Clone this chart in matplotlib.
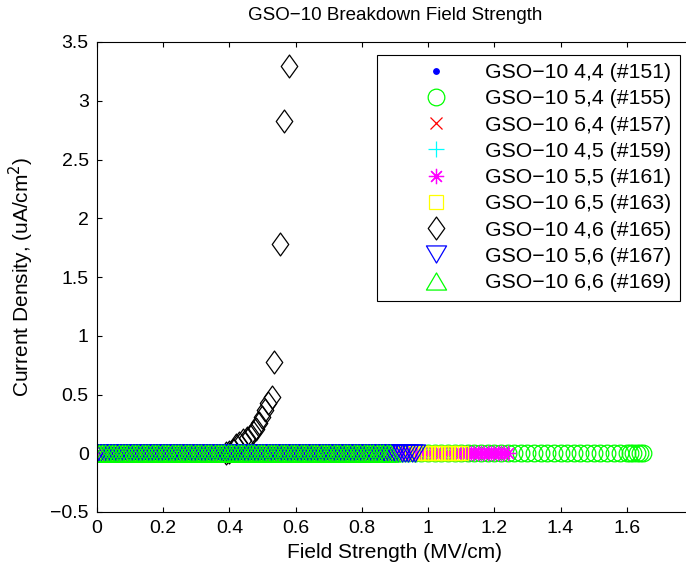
import matplotlib
matplotlib.use("Agg")
import matplotlib.pyplot as plt
from matplotlib.path import Path

plt.rcParams['font.family'] = ['Liberation Sans', 'DejaVu Sans']

# ---------------- data ----------------
labels = ["GSO\u221210 4,4 (#151)", "GSO\u221210 5,4 (#155)", "GSO\u221210 6,4 (#157)",
          "GSO\u221210 4,5 (#159)", "GSO\u221210 5,5 (#161)", "GSO\u221210 6,5 (#163)",
          "GSO\u221210 4,6 (#165)", "GSO\u221210 5,6 (#167)", "GSO\u221210 6,6 (#169)"]

x151 = [0.00, 0.03, 0.06, 0.09, 0.12, 0.15, 0.18, 0.21, 0.24, 0.27, 0.30, 0.33, 0.36, 0.39,
        0.42, 0.45, 0.48, 0.51, 0.54, 0.57, 0.60, 0.63, 0.66, 0.69, 0.72, 0.75, 0.78, 0.81,
        0.84, 0.87]
y151 = [0.0] * len(x151)

x155 = [0.00, 0.02, 0.04, 0.06, 0.08, 0.10, 0.12, 0.14, 0.16, 0.18,
        0.20, 0.22, 0.24, 0.26, 0.28, 0.30, 0.32, 0.34, 0.36, 0.38,
        0.40, 0.42, 0.44, 0.46, 0.48, 0.50, 0.52, 0.54, 0.56, 0.58,
        0.60, 0.62, 0.64, 0.66, 0.68, 0.70, 0.72, 0.74, 0.76, 0.78,
        0.80, 0.82, 0.84, 0.86, 0.88, 0.90, 0.92, 0.94, 0.96, 0.98,
        1.00, 1.02, 1.04, 1.06, 1.08, 1.10, 1.12, 1.14, 1.16, 1.18,
        1.20, 1.22, 1.24, 1.26, 1.28, 1.30, 1.32, 1.34, 1.36, 1.38,
        1.40, 1.42, 1.44, 1.46, 1.48, 1.50, 1.52, 1.54, 1.56, 1.58,
        1.60, 1.61, 1.62, 1.63, 1.64, 1.65]
y155 = [0.0] * len(x155)

x157 = [0.01, 0.04, 0.07, 0.10, 0.13, 0.16, 0.19, 0.22, 0.25, 0.28, 0.31, 0.34, 0.37, 0.40,
        0.43, 0.46, 0.49, 0.52, 0.55, 0.58, 0.61, 0.64, 0.67, 0.70, 0.73, 0.76, 0.79, 0.82,
        0.85, 0.88]
y157 = [0.0] * len(x157)

x159 = [0.02, 0.05, 0.08, 0.11, 0.14, 0.17, 0.20, 0.23, 0.26, 0.29, 0.32, 0.35, 0.38, 0.41,
        0.44, 0.47, 0.50, 0.53, 0.56, 0.59, 0.62, 0.65, 0.68, 0.71, 0.74, 0.77, 0.80, 0.83,
        0.86, 0.89]
y159 = [0.0] * len(x159)

x161 = [0.00, 0.02, 0.04, 0.06, 0.08, 0.10, 0.12, 0.14, 0.16, 0.18,
        0.20, 0.22, 0.24, 0.26, 0.28, 0.30, 0.32, 0.34, 0.36, 0.38,
        0.40, 0.42, 0.44, 0.46, 0.48, 0.50, 0.52, 0.54, 0.56, 0.58,
        0.60, 0.62, 0.64, 0.66, 0.68, 0.70, 0.72, 0.74, 0.76, 0.78,
        0.80, 0.82, 0.84, 0.86, 0.88, 0.90, 0.92, 0.94, 0.96, 0.98,
        1.00, 1.02, 1.04, 1.06, 1.08, 1.10, 1.11, 1.12, 1.13, 1.14, 1.15, 1.16, 1.17, 1.18,
        1.19, 1.20, 1.21, 1.22, 1.23, 1.24]
y161 = [0.0] * len(x161)

x163 = [0.01, 0.03, 0.05, 0.07, 0.09, 0.11, 0.13, 0.15, 0.17, 0.19,
        0.21, 0.23, 0.25, 0.27, 0.29, 0.31, 0.33, 0.35, 0.37, 0.39,
        0.41, 0.43, 0.45, 0.47, 0.49, 0.51, 0.53, 0.55, 0.57, 0.59,
        0.61, 0.63, 0.65, 0.67, 0.69, 0.71, 0.73, 0.75, 0.77, 0.79,
        0.81, 0.83, 0.85, 0.87, 0.89, 0.91, 0.93, 0.95, 0.97, 0.98, 0.99,
        1.00, 1.01, 1.02, 1.03, 1.04, 1.05, 1.06, 1.07, 1.08, 1.09, 1.10]
y163 = [0.0] * len(x163)

x165 = [0.39, 0.40, 0.41, 0.42, 0.43, 0.44, 0.452, 0.462, 0.471, 0.48, 0.49, 0.497, 0.507,
        0.517, 0.528, 0.534, 0.553, 0.565, 0.58]
y165 = [0.0, 0.01, 0.03, 0.07, 0.085, 0.11, 0.13, 0.15, 0.18, 0.21, 0.26, 0.31, 0.37,
        0.43, 0.48, 0.78, 1.78, 2.83, 3.30]

x167 = [0.00, 0.01, 0.02, 0.03, 0.04, 0.05, 0.06, 0.07, 0.08, 0.09,
        0.10, 0.11, 0.12, 0.13, 0.14, 0.15, 0.16, 0.17, 0.18, 0.19,
        0.20, 0.21, 0.22, 0.23, 0.24, 0.25, 0.26, 0.27, 0.28, 0.29,
        0.30, 0.31, 0.32, 0.33, 0.34, 0.35, 0.36, 0.37, 0.38, 0.39,
        0.40, 0.41, 0.42, 0.43, 0.44, 0.45, 0.46, 0.47, 0.48, 0.49,
        0.50, 0.51, 0.52, 0.53, 0.54, 0.55, 0.56, 0.57, 0.58, 0.59,
        0.60, 0.61, 0.62, 0.63, 0.64, 0.65, 0.66, 0.67, 0.68, 0.69,
        0.70, 0.71, 0.72, 0.73, 0.74, 0.75, 0.76, 0.77, 0.78, 0.79,
        0.80, 0.81, 0.82, 0.83, 0.84, 0.85, 0.86, 0.87, 0.88, 0.89,
        0.90, 0.91, 0.92, 0.93, 0.94, 0.95, 0.96]
y167 = [0.0] * len(x167)

x169 = [0.005, 0.015, 0.025, 0.035, 0.045, 0.055, 0.065, 0.075, 0.085, 0.095,
        0.105, 0.115, 0.125, 0.135, 0.145, 0.155, 0.165, 0.175, 0.185, 0.195,
        0.205, 0.215, 0.225, 0.235, 0.245, 0.255, 0.265, 0.275, 0.285, 0.295,
        0.305, 0.315, 0.325, 0.335, 0.345, 0.355, 0.365, 0.375, 0.385, 0.395,
        0.405, 0.415, 0.425, 0.435, 0.445, 0.455, 0.465, 0.475, 0.485, 0.495,
        0.505, 0.515, 0.525, 0.535, 0.545, 0.555, 0.565, 0.575, 0.585, 0.595,
        0.605, 0.615, 0.625, 0.635, 0.645, 0.655, 0.665, 0.675, 0.685, 0.695,
        0.705, 0.715, 0.725, 0.735, 0.745, 0.755, 0.765, 0.775, 0.785, 0.795,
        0.805, 0.815, 0.825, 0.835, 0.845, 0.855, 0.865, 0.875, 0.885]
y169 = [0.0] * len(x169)

xticks = [0, 0.2, 0.4, 0.6, 0.8, 1.0, 1.2, 1.4, 1.6]
xticklabels = ["0", "0.2", "0.4", "0.6", "0.8", "1", "1.2", "1.4", "1.6"]
yticks = [-0.5, 0, 0.5, 1, 1.5, 2, 2.5, 3, 3.5]
yticklabels = ["\u22120.5", "0", "0.5", "1", "1.5", "2", "2.5", "3", "3.5"]

# ---------------- markers ----------------
diamond = Path([(0, 1), (0.72, 0), (0, -1), (-0.72, 0), (0, 1)],
               [Path.MOVETO, Path.LINETO, Path.LINETO, Path.LINETO, Path.CLOSEPOLY])
tri_down = Path([(-1, 0.85), (1, 0.85), (0, -0.85), (-1, 0.85)],
                [Path.MOVETO, Path.LINETO, Path.LINETO, Path.CLOSEPOLY])
tri_up = Path([(-1, -0.85), (1, -0.85), (0, 0.85), (-1, -0.85)],
              [Path.MOVETO, Path.LINETO, Path.LINETO, Path.CLOSEPOLY])

series = [
    (x151, y151, dict(marker='o', color='#0000ff', ms=4, mfc='#0000ff', mec='#0000ff')),
    (x155, y155, dict(marker='o', color='#00ff00', ms=12, mfc='none')),
    (x157, y157, dict(marker='x', color='#ff0000', ms=8)),
    (x159, y159, dict(marker='+', color='#00ffff', ms=11.5)),
    (x161, y161, dict(marker=(8, 2, 0), color='#ff00ff', ms=11)),
    (x163, y163, dict(marker='s', color='#ffff00', ms=10, mfc='none')),
    (x165, y165, dict(marker=diamond, color='#000000', ms=16.5, mfc='none')),
    (x167, y167, dict(marker=tri_down, color='#0000ff', ms=14.5, mfc='none')),
    (x169, y169, dict(marker=tri_up, color='#00ff00', ms=14.5, mfc='none')),
]

fig = plt.figure(figsize=(6.86, 5.75), dpi=100)
ax = fig.add_axes([97 / 686, 63 / 575, 596 / 686, 470 / 575])

for (xs, ys, st), lab in zip(series, labels):
    ax.plot(xs, ys, linestyle='none', mew=0.9, label=lab, **st)

ax.set_xlim(0, 1.8)
ax.set_ylim(-0.5, 3.5)
ax.set_xticks(xticks)
ax.set_xticklabels(xticklabels)
ax.set_yticks(yticks)
ax.set_yticklabels(yticklabels)
ax.tick_params(direction='in', top=True, right=False, length=3.5, width=0.8,
               labelsize=14, pad=6)
for sp in ax.spines.values():
    sp.set_linewidth(0.8)
ax.spines['right'].set_visible(False)

ax.set_title("GSO\u221210 Breakdown Field Strength", fontsize=13.5, pad=16)
ax.set_xlabel("Field Strength (MV/cm)", fontsize=15, labelpad=4)
ax.set_ylabel("Current Density, (uA/cm$^2$)", fontsize=15, labelpad=10)

leg = ax.legend(loc='upper right', fontsize=15.3, frameon=True, fancybox=False,
                framealpha=1, edgecolor='black', numpoints=1,
                handlelength=4.7, handletextpad=0.0, borderpad=0.4,
                labelspacing=0.34, borderaxespad=0.6,
                bbox_to_anchor=(1.0, 1.0))
leg.get_frame().set_linewidth(0.8)

fig.savefig("out.png", dpi=100)
